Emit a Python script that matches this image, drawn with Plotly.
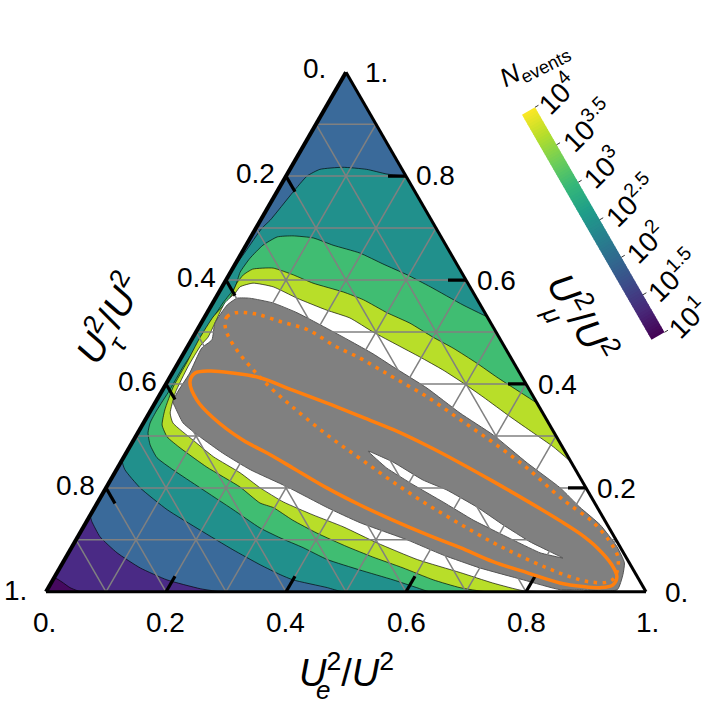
import plotly.graph_objects as go
from plotly.colors import sample_colorscale

# ---- data: fractions (mu = U_mu^2/U^2, e = U_e^2/U^2) ----
purple_mu = [0, .146, .135, .106, .075, .046, .023, .006, 0]
purple_e = [0, 0, .009, .037, .081, .134, .190, .254, .290]
corner_mu = [0, .027, .019, .008, 0]
corner_e = [0, 0, .017, .036, .057]
teal_mu = [.8, .804, .813, .817, .813, .8, .769, .715, .7, .654, .608, .254, .235, .2, .158, .119, .081, .052, .033, .023, .008, 0, 0]
teal_e = [.2, .166, .128, .086, .05, .035, .027, .016, .01, .005, 0, 0, .014, .057, .123, .197, .271, .331, .374, .4, .465, .495, 1]
green_mu = [.529, .552, .587, .61, .631, .652, .667, .681, .685, .683, .667, .642, .615, .587, .556, .523, .481, .433, .388, .35, .325, .306, .283, .258, .235, .2, .158, .123, .104, .085, .062, .042, .023, .008, 0, 0]
green_e = [.471, .419, .347, .297, .246, .197, .145, .105, .069, .044, .028, .019, .016, .022, .017, .015, .016, .012, .012, .01, .011, .017, .032, .056, .094, .157, .233, .295, .338, .386, .438, .502, .567, .614, .64, 1]
yellow_mu = [.363, .388, .413, .44, .469, .49, .517, .537, .562, .577, .594, .61, .623, .621, .61, .594, .565, .529, .488, .442, .394, .35, .321, .298, .277, .24, .202, .171, .162, .138, .113, .087, .067, .046, .023, .008, 0, 0]
yellow_e = [.637, .591, .545, .498, .444, .4, .348, .3, .248, .207, .148, .107, .067, .034, .024, .021, .024, .014, .012, .014, .015, .023, .033, .053, .085, .148, .222, .271, .298, .342, .395, .458, .511, .572, .634, .686, .735, 1]
white_mu = [.25, .279, .306, .337, .375, .402, .427, .452, .475, .5, .527, .542, .565, .587, .594, .587, .575, .556, .49, .475, .433, .383, .344, .325, .292, .26, .229, .2, .173, .148, .125, .094, .062, .037, .017, .002, 0, 0]
white_e = [.75, .706, .659, .605, .541, .494, .448, .397, .348, .295, .243, .197, .136, .085, .048, .03, .028, .02, .025, .021, .02, .024, .035, .049, .099, .149, .209, .257, .309, .371, .433, .505, .588, .672, .736, .795, .86, 1]
gray_mu = [.565, .565, .556, .537, .504, .483, .458, .433, .392, .344, .302, .248, .2, .163, .129, .087, .056, .033, .004, .004, .004, .023, .046, .071, .1, .133, .162, .202, .235, .267, .298, .325, .356, .365, .383, .421, .469, .485, .517, .552, .565]
gray_e = [.036, .057, .1, .15, .221, .265, .316, .362, .439, .518, .594, .678, .757, .808, .859, .908, .936, .945, .95, .885, .855, .784, .7, .626, .552, .457, .388, .301, .223, .161, .108, .066, .037, .029, .027, .029, .025, .034, .023, .026, .036]
slit_mu = [.271, .25, .215, .196, .163, .129, .096, .077, .065, .075, .096, .115, .138, .173, .206, .238, .271]
slit_e = [.401, .453, .521, .57, .637, .697, .759, .802, .829, .786, .737, .694, .643, .575, .509, .449, .401]
solid_mu = [.404, .421, .425, .421, .412, .388, .363, .338, .312, .281, .248, .213, .175, .137, .112, .085, .052, .029, .013, .008, .01, .017, .037, .058, .085, .11, .138, .167, .2, .238, .267, .292, .335, .369, .404]
solid_e = [.038, .038, .061, .101, .151, .217, .287, .354, .423, .495, .566, .638, .714, .788, .834, .876, .917, .937, .938, .919, .89, .848, .783, .716, .648, .58, .509, .44, .368, .293, .235, .182, .111, .067, .038]
dotted_mu = [.513, .529, .537, .535, .519, .504, .473, .45, .431, .413, .375, .331, .287, .238, .187, .167, .135, .096, .065, .029, .019, .019, .029, .046, .071, .096, .133, .171, .213, .256, .298, .344, .365, .394, .427, .462, .494, .513]
dotted_e = [.042, .037, .047, .081, .134, .185, .245, .298, .336, .372, .448, .525, .602, .683, .758, .79, .843, .892, .921, .934, .927, .897, .859, .812, .751, .695, .62, .546, .47, .396, .324, .251, .219, .176, .132, .089, .056, .042]
grid_values = [.1, .2, .3, .4, .5, .6, .7, .8, .9]
tick_values = [.2, .4, .6, .8]
cbar_levels = [1, 1.5, 2, 2.5, 3, 3.5, 4]
cbar_labels = ["10<sup>1</sup>", "10<sup>1.5</sup>", "10<sup>2</sup>", "10<sup>2.5</sup>", "10<sup>3</sup>", "10<sup>3.5</sup>", "10<sup>4</sup>"]

# ---- styles / layout geometry ----
W, H = 720, 706
L, R, T, B = 46, 74, 72, 114
PW, PH = W - L - R, H - T - B
FONT = "Liberation Sans"
BLUE, PURPLE, DARK, TEAL, GREEN, LIME = "#3a6a9a", "#4a2a85", "#46095f", "#21908c", "#40bd72", "#b8de29"
GRAY, ORANGE = "#808080", "#ff7f0e"
EDGE = "rgba(0,0,0,0.65)"


def px(x):
    return (x - L) / PW


def py(y):
    return (H - B - y) / PH


def comp(mu, e):
    return [max(1 - m - v, 0) for m, v in zip(mu, e)]


def region(mu, e, color, line=EDGE, smooth=0.5):
    return go.Scatterternary(a=mu, b=comp(mu, e), c=e, mode="lines", fill="toself", fillcolor=color,
                             line=dict(color=line, width=1, shape="spline", smoothing=smooth),
                             hoverinfo="skip", showlegend=False)


fig = go.Figure()
fig.add_trace(region([0, 0, 1, 0], [0, 1, 0, 0], BLUE, "rgba(0,0,0,0)", 0))
fig.add_trace(region(purple_mu, purple_e, PURPLE))
fig.add_trace(region(corner_mu, corner_e, DARK))
fig.add_trace(region(teal_mu, teal_e, TEAL))
fig.add_trace(region(green_mu, green_e, GREEN))
fig.add_trace(region(yellow_mu, yellow_e, LIME))
fig.add_trace(region(white_mu, white_e, "#ffffff"))
fig.add_trace(region(gray_mu, gray_e, GRAY, "#555555"))
fig.add_trace(region(slit_mu, slit_e, "#ffffff", "#555555", 0.3))

# grid drawn above the filled regions
ga, gb, gc = [], [], []
for v in grid_values:
    ga += [v, v, None, 0, 1 - v, None, 0, 1 - v, None]
    gb += [1 - v, 0, None, v, v, None, 1 - v, 0, None]
    gc += [0, 1 - v, None, 1 - v, 0, None, v, v, None]
fig.add_trace(go.Scatterternary(a=ga, b=gb, c=gc, mode="lines", line=dict(color=GRAY, width=1.5),
                                hoverinfo="skip", showlegend=False))

# major ticks, running along the grid directions
TL = 0.03
ta, tb, tc = [], [], []
for v in tick_values:
    ta += [v, v, None, 0, TL, None, 1 - v, 1 - v - TL, None]
    tb += [0, TL, None, 1 - v, 1 - v - TL, None, v, v, None]
    tc += [1 - v, 1 - v - TL, None, v, v, None, 0, TL, None]
fig.add_trace(go.Scatterternary(a=ta, b=tb, c=tc, mode="lines", line=dict(color="black", width=3.2),
                                hoverinfo="skip", showlegend=False))

fig.add_trace(go.Scatterternary(a=solid_mu, b=comp(solid_mu, solid_e), c=solid_e, mode="lines",
                                line=dict(color=ORANGE, width=3.5, shape="spline", smoothing=1),
                                hoverinfo="skip", showlegend=False))
fig.add_trace(go.Scatterternary(a=dotted_mu, b=comp(dotted_mu, dotted_e), c=dotted_e, mode="lines",
                                line=dict(color=ORANGE, width=3.5, dash="3.5px,5.5px", shape="spline", smoothing=1),
                                hoverinfo="skip", showlegend=False))

hidden = dict(min=0, showgrid=False, showticklabels=False, ticks="", showline=True,
              linecolor="black", layer="above traces", title=dict(text=""))
annotations = []


def label(text, x, y, size=28, angle=0):
    annotations.append(dict(text=text, x=px(x), y=py(y), xref="paper", yref="paper", showarrow=False,
                            xanchor="center", yanchor="middle", textangle=angle,
                            font=dict(family=FONT, size=size, color="black")))


# tick labels
for t, x, y in [("0.", 314, 68), ("0.2", 255, 173), ("0.4", 196, 277), ("0.6", 137, 381), ("0.8", 75, 485), ("1.", 15, 590),
                ("1.", 376, 72), ("0.8", 435, 176), ("0.6", 496, 280), ("0.4", 557, 384), ("0.2", 616, 488), ("0.", 676, 592),
                ("0.", 44, 622), ("0.2", 165, 622), ("0.4", 285, 622), ("0.6", 406, 622), ("0.8", 526, 622), ("1.", 647, 622)]:
    label(t, x, y)

# axis titles, subscript stacked under the superscript
TITLE = "<i>U</i><sup>2</sup>/<i>U</i><sup>2</sup>"
label(TITLE, 346, 670, 38)
label("<i>e</i>", 323, 690, 26)
label(TITLE, 107, 318, 38, -60)
label("<i>τ</i>", 118, 343, 26, -60)
label(TITLE, 583, 316, 38, 60)
label("<i>μ</i>", 552, 314, 26, 60)

# rotated colour bar
CX0, CY0, CX1, CY1 = 658, 336, 528.5, 111   # bar axis, low end to high end
UX, UY = 0.866, 0.5   # unit vector across the bar
HW = 7.5
N = 90
shapes = []
lo, hi = cbar_levels[0], cbar_levels[-1]
for i in range(N):
    f0, f1 = i / N, min((i + 1.3) / N, 1)
    x0, y0 = CX0 + (CX1 - CX0) * f0, CY0 + (CY1 - CY0) * f0
    x1, y1 = CX0 + (CX1 - CX0) * f1, CY0 + (CY1 - CY0) * f1
    col = sample_colorscale("Viridis", [(i + 0.5) / N])[0]
    pts = [(x0 - UX * HW, y0 + UY * HW), (x0 + UX * HW, y0 - UY * HW), (x1 + UX * HW, y1 - UY * HW), (x1 - UX * HW, y1 + UY * HW)]
    path = "M " + " L ".join(f"{px(a):.5f} {py(b):.5f}" for a, b in pts) + " Z"
    shapes.append(dict(type="path", path=path, xref="paper", yref="paper", fillcolor=col, line=dict(width=0), layer="above"))
for v in cbar_levels:
    f = (v - lo) / (hi - lo)
    x0, y0 = CX0 + (CX1 - CX0) * f + UX * HW, CY0 + (CY1 - CY0) * f - UY * HW
    shapes.append(dict(type="line", xref="paper", yref="paper", x0=px(x0), y0=py(y0), x1=px(x0 + UX * 4), y1=py(y0 - UY * 4),
                       line=dict(color="#333333", width=1), layer="above"))
for t, x, y in zip(cbar_labels, [687, 672, 645, 630, 602, 587, 557], [317, 275, 242, 200, 167, 125, 93]):
    label(t, x, y, 28, -45)
label("<i>N</i><sub>events</sub>", 534, 64, 26, -27)

fig.update_layout(
    width=W, height=H, autosize=False, paper_bgcolor="white",
    margin=dict(l=L, r=R, t=T, b=B, pad=0),
    ternary=dict(sum=1, bgcolor="white", domain=dict(x=[0, 1], y=[0, 1]),
                 aaxis=dict(hidden, linewidth=4), baxis=dict(hidden, linewidth=3), caxis=dict(hidden, linewidth=3)),
    annotations=annotations, shapes=shapes, showlegend=False,
)
fig.write_html("out.html", post_script="document.body.style.margin='0';", config=dict(displayModeBar=False))
